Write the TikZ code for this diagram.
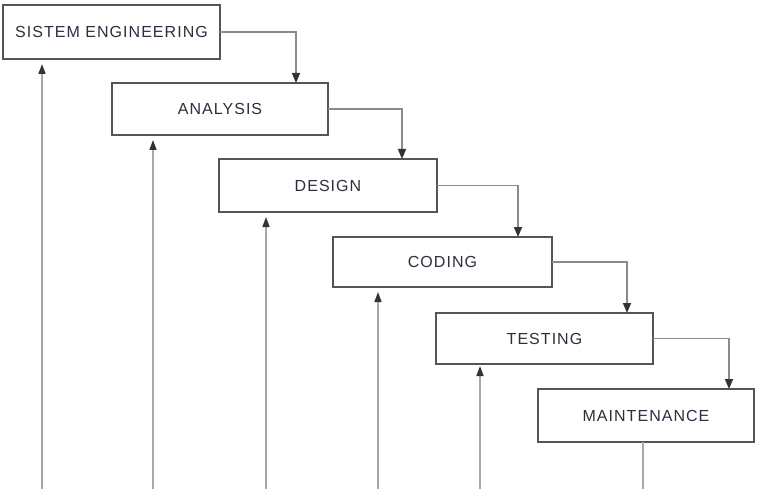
\documentclass[tikz,border=0pt]{standalone}
\usepackage{fontspec}
\setmainfont{Liberation Sans}[LetterSpace=6.5]
\usetikzlibrary{arrows.meta,calc}
\definecolor{boxline}{HTML}{555555}
\definecolor{flowline}{HTML}{8A8A8A}
\definecolor{backline}{HTML}{A8A8A8}
\definecolor{txt}{HTML}{2E2E3E}
\begin{document}
\begin{tikzpicture}[x=1pt,y=-1pt,
  stage/.style={draw=boxline,line width=1.6pt,fill=white,inner sep=0pt,outer sep=0pt,
    minimum width=217pt,minimum height=52pt,text=txt,font=\fontsize{16}{18}\selectfont},
  flow/.style={draw=flowline,line width=1.6pt,-{Triangle[length=10pt,width=8pt,fill=black!80,color=black!80]}},
  back/.style={draw=backline,line width=1.6pt,-{Triangle[length=10pt,width=7pt,fill=black!80,color=black!80]}},
  plain/.style={draw=backline,line width=1.6pt}]
\useasboundingbox (0,0) rectangle (762,489);
\node[stage,minimum width=217pt,minimum height=54pt] (b1) at (111.5,32) {SISTEM ENGINEERING};
\node[stage,minimum width=216pt,minimum height=52pt] (b2) at (220,109) {ANALYSIS};
\node[stage,minimum width=218pt,minimum height=53pt] (b3) at (328,185.5) {DESIGN};
\node[stage,minimum width=219pt,minimum height=50pt] (b4) at (442.5,262) {CODING};
\node[stage,minimum width=217pt,minimum height=51pt] (b5) at (544.5,338.5) {TESTING};
\node[stage,minimum width=216pt,minimum height=53pt] (b6) at (646,415.5) {MAINTENANCE};
% landing points of the forward arrows
\coordinate (t2) at (296,83);
\coordinate (t3) at (402,159);
\coordinate (t4) at (518,237);
\coordinate (t5) at (627,313);
\coordinate (t6) at (729,389);
\draw[flow] (b1.east) -| (t2);
\draw[flow] (b2.east) -| (t3);
\draw[flow] (b3.east) -| (t4);
\draw[flow] (b4.east) -| (t5);
\draw[flow] (b5.east) -| (t6);
% feedback arrows from the bottom edge
\coordinate (f1) at (42,489);
\coordinate (f2) at (153,489);
\coordinate (f3) at (266,489);
\coordinate (f4) at (378,489);
\coordinate (f5) at (480,489);
\coordinate (f6) at (643,489);
\draw[back,shorten >=5pt] (f1) -- (f1 |- b1.south);
\draw[back,shorten >=5pt] (f2) -- (f2 |- b2.south);
\draw[back,shorten >=5pt] (f3) -- (f3 |- b3.south);
\draw[back,shorten >=5pt] (f4) -- (f4 |- b4.south);
\draw[back,shorten >=2pt] (f5) -- (f5 |- b5.south);
\draw[plain] (f6 |- b6.south) -- (f6);
\end{tikzpicture}
\end{document}
